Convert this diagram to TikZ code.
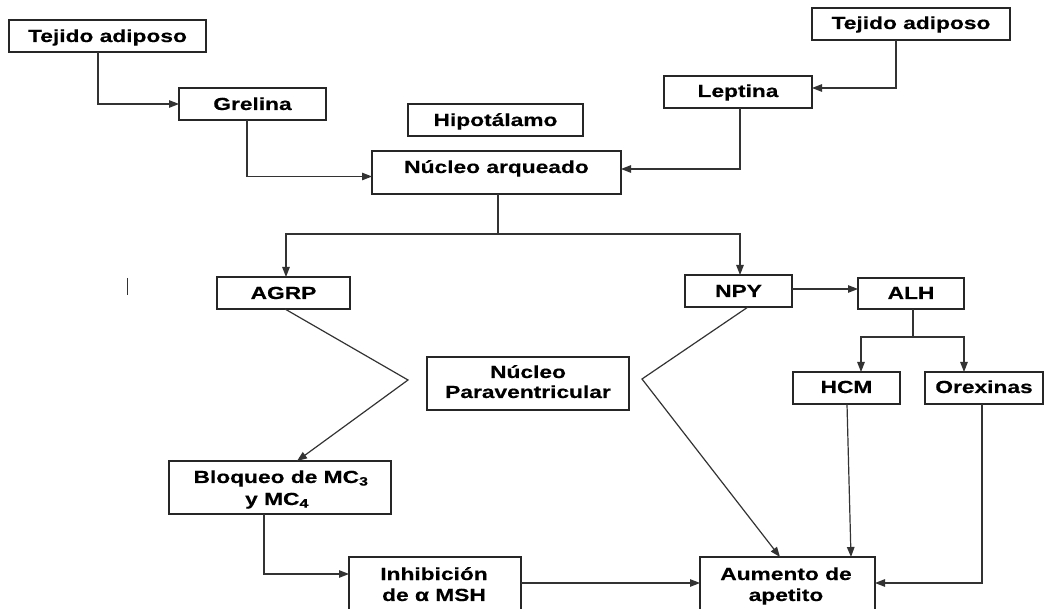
\documentclass[tikz,border=0pt]{standalone}
\usepackage{fontspec}
\newfontfamily\labfont{Liberation Sans Bold}[FakeStretch=1.3,FakeBold=0.4]
\usetikzlibrary{arrows.meta,calc}
\begin{document}
\begin{tikzpicture}[x=1pt,y=-1pt,
  boxst/.style={draw=black!85, line width=1.2pt, inner sep=0pt, outer sep=0pt, fill=white},
  lab/.style={anchor=base, inner sep=0pt, font=\labfont\fontsize{17.5}{21}\selectfont, text=black},
  conn/.style={draw=black!80, line width=1.2pt},
  arr/.style={conn, -{Triangle[length=10pt,width=7.5pt]}}]
\useasboundingbox (0,0) rectangle (1045,609);
\clip (0,0) rectangle (1045,609);
% boxes
\node[boxst, minimum width=197pt, minimum height=32pt] (tejA) at (107.5,36) {};
\node[boxst, minimum width=147pt, minimum height=32pt] (grel) at (252.5,104) {};
\node[boxst, minimum width=175pt, minimum height=32pt] (hipo) at (495.5,120) {};
\node[boxst, minimum width=249pt, minimum height=43pt] (nucA) at (496.5,172.5) {};
\node[boxst, minimum width=148pt, minimum height=32pt] (lept) at (738,92) {};
\node[boxst, minimum width=198pt, minimum height=32pt] (tejB) at (911,24) {};
\node[boxst, minimum width=133pt, minimum height=32pt] (agrp) at (283.5,293) {};
\node[boxst, minimum width=107pt, minimum height=32pt] (npy) at (738.5,291) {};
\node[boxst, minimum width=106pt, minimum height=31pt] (alh) at (911,293.5) {};
\node[boxst, minimum width=202pt, minimum height=53pt] (para) at (528,383.5) {};
\node[boxst, minimum width=107pt, minimum height=32pt] (hcm) at (846.5,388) {};
\node[boxst, minimum width=118pt, minimum height=32pt] (orex) at (984,388) {};
\node[boxst, minimum width=222pt, minimum height=53pt] (bloq) at (280,487.5) {};
\node[boxst, minimum width=172pt, minimum height=68pt] (inhi) at (435,591) {};
\node[boxst, minimum width=175pt, minimum height=68pt] (aume) at (787.5,591) {};
% texts
\node[lab] (tejAt) at (107.5,42) {Tejido adiposo};
\node[lab] (grelt) at (252.5,110) {Grelina};
\node[lab] (hipot) at (495.5,126) {Hipotálamo};
\node[lab] (nucAt) at (496.5,173) {Núcleo arqueado};
\node[lab] (leptt) at (738,97) {Leptina};
\node[lab] (tejBt) at (911,29) {Tejido adiposo};
\node[lab] (agrpt) at (283.5,299) {AGRP};
\node[lab] (npyt) at (738.5,297) {NPY};
\node[lab] (alht) at (911,299) {ALH};
\node[lab] (parat1) at (528,378) {Núcleo};
\node[lab] (parat2) at (528,398) {Paraventricular};
\node[lab] (hcmt) at (846.5,393) {HCM};
\node[lab] (orext) at (984,393) {Orexinas};
\node[lab] (bloqt1) at (281,483) {Bloqueo de MC\textsubscript{3}};
\node[lab] (bloqt2) at (277,505) {y MC\textsubscript{4}};
\node[lab] (inhit1) at (434,580) {Inhibición};
\node[lab] (inhit2) at (434,601) {de α MSH};
\node[lab] (aumet1) at (786,580) {Aumento de};
\node[lab] (aumet2) at (786,601) {apetito};
% stray mark
\draw[conn, line width=1pt] (127,278) -- (127,295);
% junction coordinates
\coordinate (j1) at (498,234);
\coordinate (j2) at (913,337);
\coordinate (k1) at (408,380);
\coordinate (k2) at (642,379);
% connectors
\draw[arr] ([xshift=-9.5pt]tejA.south) |- (grel.west);
\draw[arr] ([xshift=-5.5pt]grel.south) |- ([yshift=-4pt]nucA.west);
\draw[arr] ([xshift=-15pt]tejB.south) |- ([yshift=4pt]lept.east);
\draw[arr] ([xshift=2pt]lept.south) |- ([yshift=3.5pt]nucA.east);
\draw[conn] ([xshift=1.5pt]nucA.south) -- (j1);
\draw[arr] (j1) -| ([xshift=2.5pt]agrp.north);
\draw[arr] (j1) -| ([xshift=1.5pt]npy.north);
\draw[arr] ([yshift=2pt]npy.east) -- ([yshift=2pt]npy.east -| alh.west);
\draw[conn] ([xshift=2pt]alh.south) -- (j2);
\draw[arr] (j2) -| ([xshift=14.5pt]hcm.north);
\draw[arr] (j2) -| ([xshift=-20pt]orex.north);
\draw[arr] ([xshift=1.5pt]agrp.south) -- (k1) -- ([xshift=17pt]bloq.north);
\draw[arr] ([xshift=9.5pt]npy.south) -- (k2) -- ([xshift=-7.5pt]aume.north);
\draw[arr] ([xshift=0.5pt]hcm.south) -- ([xshift=63.5pt]aume.north);
\draw[arr] ([xshift=-2pt]orex.south) |- ([yshift=8pt]aume.east);
\draw[arr] ([xshift=-16pt]bloq.south) |- ([yshift=17pt]inhi.west);
\draw[arr] ([yshift=8pt]inhi.east) -- ([yshift=8pt]aume.west);
\end{tikzpicture}
\end{document}
